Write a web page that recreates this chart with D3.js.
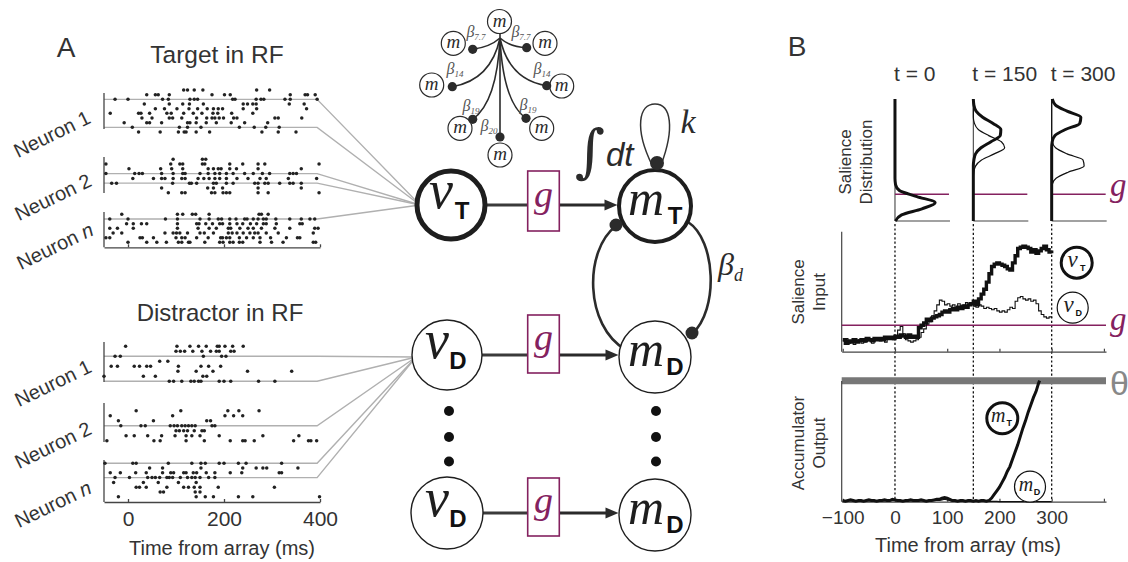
<!DOCTYPE html>
<html>
<head>
<meta charset="utf-8">
<script src="https://cdn.jsdelivr.net/npm/d3@7/dist/d3.min.js"></script>
<style>
html,body{margin:0;padding:0;background:#fff;}
svg{display:block;}
</style>
</head>
<body>
<svg id="chart" width="1128" height="562"></svg>
<script>
// ================= DATA =================
// Panel A raster: spike times (ms from array onset), one array per trial
const rasterTicks = [0, 200, 400];
const targetNeuron1 = [
 [116,124,138,156,268,295],
 [39,57,63,86,175,201,213,338,369,374,390],
 [-27,0,72,84,129,138,145,218,223,267,277,283,327,338,394],
 [34,86,114,128,157,240,249,260,267,336,367],
 [57,76,102,127,145,165,178,188,197,240,268,372],
 [-37,22,27,45,81,90,116,136,154,177,187,216,260],
 [29,50,86,93,112,143,164,175,181,190,199,220,227,306,313,362],
 [-8,39,45,70,124,129,142,163,184,215,243,291],
 [9,107,124,152,232,263,287,315],
 [22,67,105,117,121,142,170,279,313,350]
];
const targetNeuron2 = [
 [94,155,162],
 [-46,89,108,114,155,160,212,239,271,285,398],
 [2,68,91,114,167,178,188,194,212,226,271,361],
 [-46,14,23,30,70,94,114,119,150,167,181,191,205,219,243,261,280,295,337,344,351],
 [10,53,70,77,94,112,119,146,158,169,181,191,205,227,250,275,288,334,393],
 [-34,-24,93,128,132,143,178,184,205,219,264,271,285,292,316,337,344,361],
 [70,166,178,197,271,361],
 [84,112,119,174,181,198,205,212,271,292,398]
];
const targetNeuronN = [
 [-13,103,114,134,141,169,273,278,292],
 [-38,0,78,103,150,169,188,195,212,225,243,248,261,271,282,288,308,337,361,379,389],
 [-3,11,28,39,103,143,148,162,176,191,197,212,227,239,255,268,282,288,309,358,363],
 [-38,-22,11,103,146,169,184,209,214,233,250,261,278,306,337,389,396],
 [-31,-13,77,94,101,108,124,150,159,178,209,217,227,240,254,264,271,288,313,386],
 [-46,-38,25,30,53,100,112,119,143,167,193,197,205,212,232,247,261,275,297,330,353,358],
 [0,39,60,80,105,112,126,129,160,191,198,212,219,232,239,275,299,323,386,391]
];
const distractorNeuron1 = [
 [-5,102,129,147,163,186,190,202,218,240],
 [100,109,118,135,154,172,184,190,214,221],
 [-27,-16,157,195,204],
 [66,83],
 [-35,-22,13,24,39,47,105,152,168,193],
 [104,142,177,249,341],
 [-50,32,57,156,164],
 [86,95,112,131,138,147,152,190,200,214,272,306]
];
const distractorNeuron2 = [
 [17,110,208,231,273],
 [-37,93,202,220,239],
 [-20,53,164,172],
 [-15,27,36,88,96,103,112,119,126,133,140,175,181],
 [100,107,116,124,138,154,159],
 [-4,13,41,70,98,121,133,150,190,281,356],
 [-44,54,67,121,159,213,239,244,263,345,376,381,393]
];
const distractorNeuronN = [
 [-48,10,17,84,133,152,161,190,200,230,246,320],
 [45,72,152,239,267,281,289,354],
 [-37,-16,16,38,72,89,95,116,121,136,143,163,181,213,237,315,320],
 [-27,3,41,50,57,66,81,86,93,109,124,133,140,150,168,181],
 [-30,32,63,105,142],
 [17,24,38,81,116,126,138,150,188,305],
 [67,74,140,150],
 [-20,142,161,178,230,260,399]
];

// Panel B: salience distributions (density vs salience level)
const salienceLevels = [0,5,10,15,20,25,30,35,40,45,50,55,60,65,70,75,80,85,90,95,100];
const densTarget0    = [0.01,0.12,0.49,0.73,0.40,0.08,0.01,0,0,0,0,0,0,0,0,0,0,0,0,0,0];
const densDistr0     = [0.01,0.12,0.49,0.73,0.40,0.08,0.01,0,0,0,0,0,0,0,0,0,0,0,0,0,0];
const densTarget150  = [0,0,0,0,0,0,0,0,0,0,0.01,0.04,0.14,0.32,0.49,0.50,0.36,0.17,0.05,0.01,0];
const densDistr150   = [0,0,0,0,0,0,0,0,0.01,0.04,0.15,0.38,0.57,0.51,0.28,0.09,0.02,0,0,0,0];
const densTarget300  = [0,0,0,0,0,0,0,0,0,0,0,0,0,0.01,0.06,0.25,0.51,0.53,0.28,0.07,0.01];
const densDistr300   = [0,0,0,0,0,0,0.01,0.08,0.30,0.59,0.57,0.28,0.07,0.01,0,0,0,0,0,0,0];
const snapshotTimes  = [0, 150, 300];
const snapshotLabels = ["t = 0", "t = 150", "t = 300"];
const gateLevel = 22;        // g
const thresholdLevel = 100;  // θ

// Panel B: salience input traces
const inputTimes = [-100,-95,-90,-85,-80,-75,-70,-65,-60,-55,-50,-45,-40,-35,-30,-25,-20,-15,-10,-5,
 0,5,10,15,20,25,30,35,40,45,50,55,60,65,70,75,80,85,90,95,100,105,110,115,120,125,130,135,140,145,
 150,155,160,165,170,175,180,185,190,195,200,205,210,215,220,225,230,235,240,245,250,255,260,265,270,275,280,285,290,295,300];
const inputTarget = [10,7,9,8,10,8,9,10,9,11,10,9,11,10,11,10,12,11,12,11,
 13,12,14,13,12,14,12,13,12,20,22,24,27,26,28,29,30,31,33,34,33,35,36,35,37,36,38,37,39,40,
 42,39,44,48,52,58,65,71,73,74,73,72,71,69,68,74,80,86,87,88,87,86,83,85,82,84,86,88,85,83,82];
const inputDistr = [9,11,7,8,6,9,10,7,8,10,9,7,10,11,9,10,8,11,12,10,
 12,18,21,15,10,9,8,9,10,12,16,19,23,25,30,34,39,43,42,39,40,38,39,37,40,38,39,41,39,40,
 38,37,39,38,36,37,36,35,36,34,33,34,33,35,37,36,42,45,46,44,43,44,42,43,40,34,31,29,28,29,28];

// Panel B: accumulator output
const outTimesT = [-100,-95,-90,-85,-80,-75,-70,-65,-60,-55,-50,-45,-40,-35,-30,-25,-20,-15,-10,-5,
 0,5,10,15,20,25,30,35,40,45,50,55,60,65,70,75,80,85,90,95,100,105,110,115,120,125,130,135,140,145,
 150,155,160,165,170,175,180,185,190,195,200,205,210,215,220,225,230,235,240,245,250,255,260,265,270,275,277];
const outTarget = [1,0.5,1,1.5,1,0.5,1,1,0.5,1,1.5,1,1,0.5,1,1,1.5,1,1,2,
 1.5,1,1,0.5,1,1,1.5,1,1,1,1.5,1,0.5,1,1,1.5,2,2,3,3.5,3,2,1,1,0.5,1,1,0.5,1,1,
 0.5,1,0.5,1,1,0.5,1,3,6,9,12,16,20,25,29,35,41,47,54,61,67,74,80,86,91,98,100];
const outDistr = [0.5,0.3,0.6,0.8,0.5,0.3,0.6,0.5,0.3,0.5,0.8,0.5,0.6,0.3,0.5,0.6,0.8,0.5,0.6,1,
 0.8,0.5,0.6,0.3,0.5,0.6,0.8,0.5,0.6,0.5,0.8,0.6,0.3,0.5,0.6,0.8,1,1,1.5,2,1.5,1,0.5,0.5,0.3,0.5,0.5,0.3,0.5,0.5,
 0.3,0.5,0.3,0.5,0.4,0.3,0.3,0.2,0.2,0.2,0.1,0.1,0.1,0.1,0,0,0,0,0,0,0,0,0,0,0,0,0,0,0,0,0];
const bTicks = [-100, 0, 100, 200, 300, 400];

// ================= DRAWING =================
const svg = d3.select("#chart");
const SANS = '"Liberation Sans", Arial, Helvetica, sans-serif';
const SERIF = '"Liberation Serif", "Times New Roman", serif';
const INK = "#2b2b2b";
const TXT = "#333";
const PURPLE = "#84215f";
const GRAYLINE = "#b0b0b0";

function txt(x, y, s, size, opts = {}) {
  const t = svg.append("text").attr("x", x).attr("y", y)
    .attr("text-anchor", opts.anchor || "middle")
    .style("font-family", opts.family || SANS)
    .style("font-size", size + "px")
    .style("fill", opts.fill || TXT);
  if (opts.italic) t.style("font-style", "italic");
  if (opts.bold) t.style("font-weight", "bold");
  if (opts.rotate !== undefined) t.attr("transform", `rotate(${opts.rotate},${x},${y})`);
  if (opts.baseline) t.attr("dominant-baseline", opts.baseline);
  t.text(s);
  return t;
}

// ---------- Panel A ----------
txt(66, 57, "A", 28);
txt(217, 63, "Target in RF", 24.5);
txt(220, 321, "Distractor in RF", 24);

const xA = d3.scaleLinear([-50, 400], [104, 320]);

const rasterLayout = [
  {data: targetNeuron1, y0: 90, y1: 132, links: [2, 8], conv: [420, 205], label: "1", lx: 52, ly: 134, axTop: 93, axBot: 129},
  {data: targetNeuron2, y0: 159.3, y1: 192.7, links: [3, 5], conv: [420, 205], label: "2", lx: 53, ly: 197, axTop: 157, axBot: 193},
  {data: targetNeuronN, y0: 214.3, y1: 242.3, links: [1], conv: [420, 205], label: "n", lx: 55, ly: 246, axTop: 212, axBot: 247.3, axis: true, tickLabels: false},
  {data: distractorNeuron1, y0: 346.3, y1: 381.3, links: [2, 7], conv: [416, 357], label: "1", lx: 53, ly: 383, axTop: 342, axBot: 382},
  {data: distractorNeuron2, y0: 410.7, y1: 440.7, links: [3], conv: [416, 357], label: "2", lx: 53, ly: 445, axTop: 403, axBot: 442},
  {data: distractorNeuronN, y0: 463.3, y1: 496.7, links: [0, 3], conv: [416, 357], label: "n", lx: 53, ly: 504, axTop: 460, axBot: 502, axis: true, tickLabels: true}
];

const gA = svg.append("g");
rasterLayout.forEach(p => {
  const n = p.data.length;
  const y = d3.scalePoint().domain(d3.range(n)).range([p.y0, p.y1]);
  p.links.forEach(i => {
    const yy = y(i);
    gA.append("path")
      .attr("d", `M${xA(-50)},${yy}H${xA(394)}L${p.conv[0]},${p.conv[1]}`)
      .attr("fill", "none").attr("stroke", GRAYLINE).attr("stroke-width", 1.4);
  });
  gA.append("line").attr("x1", xA(-50)).attr("x2", xA(-50)).attr("y1", p.axTop).attr("y2", p.axBot)
    .attr("stroke", "#444").attr("stroke-width", 1.3);
  p.data.forEach((row, i) => {
    gA.selectAll(null).data(row).enter().append("circle")
      .attr("cx", d => xA(d)).attr("cy", y(i)).attr("r", 1.75).attr("fill", "#222");
  });
  if (p.axis) {
    const ax = d3.axisBottom(xA).tickValues(rasterTicks).tickSize(-3).tickSizeOuter(0).tickPadding(9)
      .tickFormat(p.tickLabels ? d3.format("d") : () => "");
    const g = gA.append("g").attr("transform", `translate(0,${p.axBot})`).call(ax);
    g.select(".domain").attr("stroke", "#444").attr("stroke-width", 1.3);
    g.selectAll(".tick line").attr("stroke", "#444").attr("stroke-width", 1.3);
    g.selectAll(".tick text").style("font-family", SANS).style("font-size", "21px").style("fill", TXT);
  }
  const t = gA.append("text").attr("transform", `translate(${p.lx},${p.ly}) rotate(-26)`)
    .attr("text-anchor", "middle").attr("dominant-baseline", "central")
    .style("font-family", SANS).style("font-size", "20px").style("fill", TXT);
  t.append("tspan").text("Neuron ");
  const s = t.append("tspan").text(p.label);
  if (p.label === "n") s.style("font-style", "italic");
});
txt(222, 555, "Time from array (ms)", 20);

// ---------- Network ----------
const gN = svg.append("g");
// top small network
const hub = [500, 38];
const smallNodes = [
  {c: [499.5, 21.5]},
  {c: [453.3, 43.3], dot: [472.7, 49.3], ctrl: [490, 47], lab: "7.7", lp: [476, 37]},
  {c: [545, 43.3], dot: [526.7, 47.7], ctrl: [510, 47], lab: "7.7", lp: [521, 37]},
  {c: [431.7, 85], dot: [452.3, 86.7], ctrl: [491, 80], lab: "14", lp: [455, 74]},
  {c: [561.7, 86], dot: [546.7, 85.7], ctrl: [509, 80], lab: "14", lp: [542, 74]},
  {c: [460, 128.3], dot: [472.7, 119.3], ctrl: [497, 102], lab: "19", lp: [471, 111]},
  {c: [541.7, 128.3], dot: [526, 118.3], ctrl: [503, 102], lab: "19", lp: [528, 110]},
  {c: [500, 155], dot: [500, 137], ctrl: [500, 90], lab: "20", lp: [489, 131]}
];
smallNodes.forEach(nd => {
  if (nd.dot) {
    gN.append("path").attr("d", `M${hub[0]},${hub[1]}Q${nd.ctrl[0]},${nd.ctrl[1]} ${nd.dot[0]},${nd.dot[1]}`)
      .attr("fill", "none").attr("stroke", INK).attr("stroke-width", 1.6);
  }
});
gN.append("line").attr("x1", 500).attr("x2", 500).attr("y1", 33).attr("y2", hub[1]).attr("stroke", INK).attr("stroke-width", 1.6);
smallNodes.forEach(nd => {
  gN.append("circle").attr("cx", nd.c[0]).attr("cy", nd.c[1]).attr("r", 12).attr("fill", "#fff").attr("stroke", INK).attr("stroke-width", 1.2);
  txt(nd.c[0], nd.c[1] + 5, "m", 19, {family: SERIF, italic: true, fill: INK});
  if (nd.dot) {
    gN.append("circle").attr("cx", nd.dot[0]).attr("cy", nd.dot[1]).attr("r", 4.6).attr("fill", INK);
    const t = svg.append("text").attr("x", nd.lp[0]).attr("y", nd.lp[1]).attr("text-anchor", "middle")
      .style("font-family", SERIF).style("font-style", "italic").style("font-size", "16px").style("fill", "#555");
    t.append("tspan").text("β");
    t.append("tspan").attr("dy", 3).style("font-size", "9px").text(nd.lab);
  }
});

// main network
const vT = [451, 205], mT = [655, 206], vD1 = [447, 355], mD1 = [655, 357], vD2 = [447, 513], mD2 = [655, 515];
const boxX = [527.7, 559.3];
const rows = [
  {v: vT, m: mT, box: [171, 231], vr: 35, mr: 37},
  {v: vD1, m: mD1, box: [315, 373], vr: 35, mr: 36},
  {v: vD2, m: mD2, box: [478, 536], vr: 36, mr: 36}
];
rows.forEach(r => {
  const y = r.v[1];
  gN.append("line").attr("x1", r.v[0] + r.vr).attr("x2", boxX[0]).attr("y1", y).attr("y2", y)
    .attr("stroke", "#3a3a3a").attr("stroke-width", 2.8);
  const tipX = r.m[0] - r.mr - 0.5;
  gN.append("line").attr("x1", boxX[1]).attr("x2", tipX - 10).attr("y1", y).attr("y2", y)
    .attr("stroke", "#2a2a2a").attr("stroke-width", 2.8);
  gN.append("path").attr("d", `M${tipX},${y}L${tipX - 13},${y - 5.5}L${tipX - 13},${y + 5.5}Z`).attr("fill", "#2a2a2a");
  gN.append("rect").attr("x", boxX[0]).attr("y", r.box[0]).attr("width", boxX[1] - boxX[0]).attr("height", r.box[1] - r.box[0])
    .attr("fill", "#fff").attr("stroke", PURPLE).attr("stroke-width", 1.6);
  txt((boxX[0] + boxX[1]) / 2, (r.box[0] + r.box[1]) / 2 + 6, "g", 38, {family: SERIF, italic: true, fill: PURPLE});
});

// mutual inhibition arcs
gN.append("path").attr("d", "M616,226C584,250 584,326 626,350").attr("fill", "none").attr("stroke", INK).attr("stroke-width", 2.6);
gN.append("path").attr("d", "M688,222C716,240 719,310 692,334").attr("fill", "none").attr("stroke", INK).attr("stroke-width", 2.6);
// self loop k
gN.append("path").attr("d", "M652,165C634,128 639,104 655,104C671,104 675,128 661,165").attr("fill", "none").attr("stroke", "#333").attr("stroke-width", 1.5);

// nodes
function bigNode(c, r, sw, main, sub, isM) {
  gN.append("circle").attr("cx", c[0]).attr("cy", c[1]).attr("r", r).attr("fill", "#fff").attr("stroke", "#1e1e1e").attr("stroke-width", sw);
  if (isM) {
    txt(c[0] - 9, c[1] + 9, main, 50, {family: SERIF, italic: true, fill: "#1e1e1e"});
    txt(c[0] + 20, c[1] + 18, sub, 24, {bold: true, fill: "#111"});
  } else {
    txt(c[0] - 10, c[1] + 3, main, 54, {family: SERIF, italic: true, fill: "#1e1e1e"});
    txt(c[0] + 11, c[1] + 14, sub, 24, {bold: true, fill: "#111"});
  }
}
bigNode(vT, 34, 5, "v", "T", false);
bigNode(mT, 36, 4, "m", "T", true);
bigNode(vD1, 35, 1.4, "v", "D", false);
bigNode(mD1, 36, 1.4, "m", "D", true);
bigNode(vD2, 36, 1.4, "v", "D", false);
bigNode(mD2, 36, 1.4, "m", "D", true);

// inhibitory dots
gN.append("circle").attr("cx", 616).attr("cy", 225).attr("r", 6.5).attr("fill", INK);
gN.append("circle").attr("cx", 692).attr("cy", 333).attr("r", 6.5).attr("fill", INK);
gN.append("circle").attr("cx", 657).attr("cy", 163).attr("r", 7).attr("fill", INK);

// ellipsis dots
[[449, 411], [449, 437], [449, 461.5], [656, 411], [656, 437], [656, 461.5]].forEach(p =>
  gN.append("circle").attr("cx", p[0]).attr("cy", p[1]).attr("r", 5).attr("fill", "#111"));

// labels
txt(605, 171, "∫", 58, {family: '"DejaVu Serif", serif', fill: INK, anchor: "end"});
txt(606, 166, "dt", 33, {fill: INK, italic: true, anchor: "start"});
txt(688, 133, "k", 34, {family: SERIF, italic: true, fill: INK});
{
  const t = svg.append("text").attr("x", 718).attr("y", 275).style("font-family", SERIF).style("font-style", "italic")
    .style("font-size", "32px").style("fill", INK);
  t.append("tspan").text("β");
  t.append("tspan").attr("dy", 6).style("font-size", "18px").text("d");
}

// ---------- Panel B ----------
txt(797, 56, "B", 28);
const xB = d3.scaleLinear([-102, 404], [841.7, 1106]);
const yDist = d3.scaleLinear([0, 100], [221, 99]);
const xDens = d3.scaleLinear([0, 1], [0, 55]);
const yIn = d3.scaleLinear([0, 100], [351.7, 231.7]);
const yOut = d3.scaleLinear([0, 100], [501.7, 380.7]);

const densSets = [[densTarget0, densDistr0], [densTarget150, densDistr150], [densTarget300, densDistr300]];
const gB = svg.append("g");
snapshotTimes.forEach((st, i) => {
  const x0 = xB(st);
  gB.append("line").attr("x1", x0).attr("x2", x0).attr("y1", yDist(100)).attr("y2", yDist(0)).attr("stroke", "#444").attr("stroke-width", 1.1);
  gB.append("line").attr("x1", x0).attr("x2", x0 + 55).attr("y1", yDist(0)).attr("y2", yDist(0)).attr("stroke", "#444").attr("stroke-width", 1.1);
  gB.append("line").attr("x1", x0).attr("x2", x0 + 54).attr("y1", yDist(gateLevel)).attr("y2", yDist(gateLevel)).attr("stroke", PURPLE).attr("stroke-width", 1.5);
  const line = d3.line().x(d => x0 + xDens(d[1])).y(d => yDist(d[0])).curve(d3.curveMonotoneY);
  const [tgt, dis] = densSets[i];
  gB.append("path").attr("d", line(salienceLevels.map((s, k) => [s, dis[k]]))).attr("fill", "none").attr("stroke", "#111").attr("stroke-width", 1.2);
  gB.append("path").attr("d", line(salienceLevels.map((s, k) => [s, tgt[k]]))).attr("fill", "none").attr("stroke", "#111").attr("stroke-width", 3);
  txt(x0 - 1, 81, snapshotLabels[i], 21, {anchor: "start"});
});
txt(1110, 196, "g", 33, {family: SERIF, italic: true, fill: PURPLE, anchor: "start"});

// dotted time markers
snapshotTimes.forEach(st => {
  gB.append("line").attr("x1", xB(st)).attr("x2", xB(st)).attr("y1", 224).attr("y2", 501)
    .attr("stroke", "#111").attr("stroke-width", 1.3).attr("stroke-dasharray", "2.2,2.2");
});

// salience input panel
gB.append("line").attr("x1", xB(-102)).attr("x2", xB(-102)).attr("y1", 231.7).attr("y2", 351.7).attr("stroke", "#444").attr("stroke-width", 1.2);
{
  const ax = d3.axisBottom(xB).tickValues(bTicks).tickSize(-3).tickSizeOuter(0).tickFormat(() => "");
  const g = gB.append("g").attr("transform", "translate(0,351.7)").call(ax);
  g.select(".domain").attr("stroke", "#444").attr("stroke-width", 1.2);
  g.selectAll(".tick line").attr("stroke", "#444").attr("stroke-width", 1.2);
}
gB.append("line").attr("x1", xB(-102)).attr("x2", xB(404)).attr("y1", yIn(gateLevel)).attr("y2", yIn(gateLevel)).attr("stroke", PURPLE).attr("stroke-width", 1.5);
const stepLine = d3.line().x(d => xB(d[0])).y(d => yIn(d[1])).curve(d3.curveStepAfter);
gB.append("path").attr("d", stepLine(inputTimes.map((t, k) => [t, inputDistr[k]]))).attr("fill", "none").attr("stroke", "#111").attr("stroke-width", 1.1);
gB.append("path").attr("d", stepLine(inputTimes.map((t, k) => [t, inputTarget[k]]))).attr("fill", "none").attr("stroke", "#111").attr("stroke-width", 3.4);
txt(1110, 330, "g", 33, {family: SERIF, italic: true, fill: PURPLE, anchor: "start"});

// accumulator output panel
gB.append("line").attr("x1", xB(-102)).attr("x2", xB(404)).attr("y1", yOut(thresholdLevel)).attr("y2", yOut(thresholdLevel)).attr("stroke", "#777").attr("stroke-width", 7);
gB.append("line").attr("x1", xB(-102)).attr("x2", xB(-102)).attr("y1", 381).attr("y2", 501.7).attr("stroke", "#444").attr("stroke-width", 1.2);
{
  const ax = d3.axisBottom(xB).tickValues(bTicks).tickSize(-3).tickSizeOuter(0).tickPadding(9)
    .tickFormat(d => d === 400 ? "" : (d < 0 ? "\u2212" + Math.abs(d) : String(d)));
  const g = gB.append("g").attr("transform", "translate(0,501.7)").call(ax);
  g.select(".domain").attr("stroke", "#444").attr("stroke-width", 1.2);
  g.selectAll(".tick line").attr("stroke", "#444").attr("stroke-width", 1.2);
  g.selectAll(".tick text").style("font-family", SANS).style("font-size", "19px").style("fill", TXT);
}
const outLine = d3.line().x(d => xB(d[0])).y(d => yOut(d[1]));
gB.append("path").attr("d", outLine(inputTimes.map((t, k) => [t, outDistr[k]]))).attr("fill", "none").attr("stroke", "#111").attr("stroke-width", 1.2);
gB.append("path").attr("d", outLine(outTimesT.map((t, k) => [t, outTarget[k]]))).attr("fill", "none").attr("stroke", "#111").attr("stroke-width", 3);
txt(1110, 395, "θ", 34, {fill: "#888", anchor: "start"});
txt(968, 552, "Time from array (ms)", 20);

// y labels (rotated, two lines)
function vlabel(xs, yc, lines) {
  lines.forEach((s, i) => txt(xs[i], yc, s, 17, {rotate: -90, baseline: "central"}));
}
vlabel([845, 866], 162, ["Salience", "Distribution"]);
vlabel([798, 819], 292, ["Salience", "Input"]);
vlabel([798, 819], 443, ["Accumulator", "Output"]);

// legend circles
function smallNode(c, sw, main, sub, isM) {
  gB.append("circle").attr("cx", c[0]).attr("cy", c[1]).attr("r", 15.5).attr("fill", "#fff").attr("stroke", "#111").attr("stroke-width", sw);
  txt(c[0] - 4, c[1] + 4, main, isM ? 20 : 23, {family: SERIF, italic: true, fill: "#222"});
  txt(c[0] + (isM ? 7 : 6), c[1] + 8, sub, 9, {bold: true, fill: "#111"});
}
smallNode([1076.7, 262.7], 3, "v", "T", false);
smallNode([1072.7, 307.7], 1.2, "v", "D", false);
smallNode([1002.3, 418.3], 3, "m", "T", true);
smallNode([1030, 486.7], 1.2, "m", "D", true);
</script>
</body>
</html>
